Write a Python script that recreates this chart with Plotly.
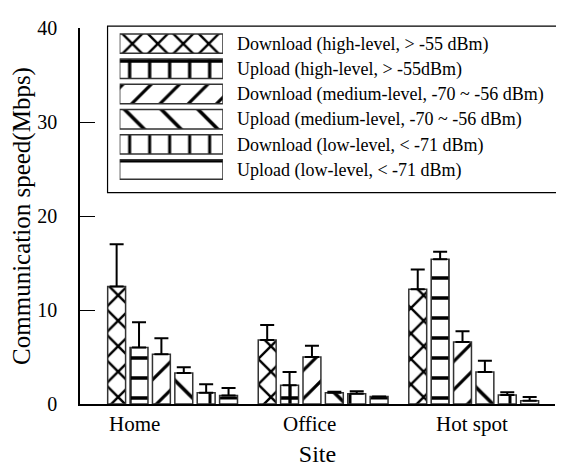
import plotly.graph_objects as go

sites = ["Home", "Office", "Hot spot"]
series_names = [
    "Download (high-level, > -55 dBm)",
    "Upload (high-level, > -55dBm)",
    "Download (medium-level, -70 ~ -56 dBm)",
    "Upload (medium-level, -70 ~ -56 dBm)",
    "Download (low-level, < -71 dBm)",
    "Upload (low-level, < -71 dBm)",
]
dl_high = [12.5, 6.8, 12.2]
dl_high_err = [4.5, 1.6, 2.1]
ul_high = [6.0, 2.0, 15.4]
ul_high_err = [2.7, 1.4, 0.8]
dl_med = [5.3, 5.0, 6.6]
dl_med_err = [1.7, 1.2, 1.15]
ul_med = [3.3, 1.2, 3.4]
ul_med_err = [0.6, 0.1, 1.2]
dl_low = [1.2, 1.1, 0.95]
dl_low_err = [0.9, 0.25, 0.3]
ul_low = [0.9, 0.8, 0.35]
ul_low_err = [0.8, 0.0, 0.4]

values = [dl_high, ul_high, dl_med, ul_med, dl_low, ul_low]
errors = [dl_high_err, ul_high_err, dl_med_err, ul_med_err, dl_low_err, ul_low_err]
shapes = ["x", "+", "/", "\\", "|", "-"]
sizes = [18, 20, 20, 26, 20, 20]
solidities = [0.25, 0.3, 0.16, 0.14, 0.15, 0.15]
label_shift = [-0.253, -0.089, -0.013]
swatch_length = [1] * len(series_names)  # legend key swatches fill the key axis

FONT = "Liberation Serif"
OUTLINE = dict(color="#333333", width=1.5)

fig = go.Figure()
for name, v, e, sh, sz, so in zip(series_names, values, errors, shapes, sizes, solidities):
    fig.add_trace(go.Bar(
        name=name, x=sites, y=v, showlegend=False,
        marker=dict(color="white", line=OUTLINE,
                    pattern=dict(shape=sh, size=sz, solidity=so,
                                 fgcolor="black", bgcolor="white", fgopacity=1)),
        error_y=dict(type="data", symmetric=False, array=e,
                     arrayminus=[0] * len(e), color="black",
                     thickness=2, width=7),
    ))

# legend key drawn as a small bar chart
fig.add_trace(go.Bar(
    x=swatch_length, y=series_names, orientation="h", width=0.77,
    xaxis="x2", yaxis="y2", showlegend=False, hoverinfo="skip",
    marker=dict(color="white", line=OUTLINE,
                pattern=dict(shape=shapes, size=sizes, solidity=solidities,
                             fgcolor="black", bgcolor="white", fgopacity=1)),
))

annotations = []
for i, s in enumerate(sites):
    annotations.append(dict(x=i + label_shift[i], y=0, xref="x", yref="y",
                            text=s, showarrow=False, yanchor="top", yshift=-6,
                            font=dict(family=FONT, size=21, color="black")))

fig.update_layout(
    width=556, height=462,
    margin=dict(l=68, r=9, t=11, b=63),
    paper_bgcolor="white", plot_bgcolor="white",
    barmode="group", bargap=0.108, bargroupgap=0.2,
    font=dict(family=FONT, color="black"),
    showlegend=False,
    annotations=annotations,
    shapes=[dict(type="rect", xref="paper", yref="paper",
                 x0=0.058, x1=1.004, y0=0.562, y1=1.005,
                 line=dict(color="black", width=1.2), fillcolor="white",
                 layer="below")],
    xaxis=dict(range=[-0.615, 2.54], showticklabels=False, ticks="",
               showline=True, linecolor="black", linewidth=1.5,
               showgrid=False, zeroline=False,
               title=dict(text="Site", font=dict(family=FONT, size=24), standoff=40)),
    yaxis=dict(range=[0, 40], tickvals=[0, 10, 20, 30, 40],
               ticks="inside", ticklen=15, tickwidth=1.2, tickcolor="black",
               ticklabelstandoff=17,
               showline=True, linecolor="black", linewidth=1.5,
               showgrid=False, zeroline=False,
               tickfont=dict(family=FONT, size=20),
               title=dict(text="Communication speed(Mbps)",
                          font=dict(family=FONT, size=25), standoff=3)),
    xaxis2=dict(domain=[0.0835, 0.301], range=[0, 1], anchor="y2",
                visible=False, fixedrange=True),
    yaxis2=dict(domain=[0.590, 0.992], anchor="x2", type="category",
                categoryorder="array", categoryarray=series_names,
                autorange="reversed", side="right", ticks="",
                showline=False, showgrid=False, zeroline=False,
                ticklabelstandoff=13, fixedrange=True,
                tickfont=dict(family=FONT, size=18, color="black")),
)

fig.write_html("out.html")
